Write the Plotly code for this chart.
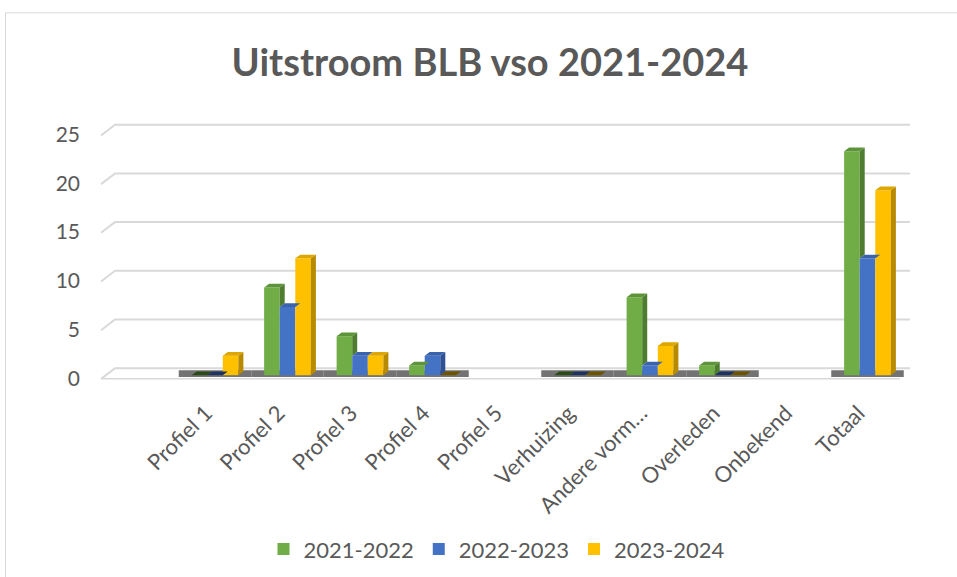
import plotly.graph_objects as go

# ---------------- data ----------------
categories = ["Profiel 1", "Profiel 2", "Profiel 3", "Profiel 4", "Profiel 5",
              "Verhuizing", "Andere vorm…", "Overleden", "Onbekend", "Totaal"]
series_names = ["2021-2022", "2022-2023", "2023-2024"]
vals_2021_2022 = [0, 9, 4, 1, None, 0, 8, 1, None, 23]
vals_2022_2023 = [0, 7, 2, 2, None, 0, 1, 0, None, 12]
vals_2023_2024 = [2, 12, 2, 0, None, 0, 3, 0, None, 19]
y_ticks = [0, 5, 10, 15, 20, 25]

series_vals = [vals_2021_2022, vals_2022_2023, vals_2023_2024]

# ---------------- styling ----------------
front_cols = ["#70AD47", "#4472C4", "#FFC000"]
side_cols = ["#4E7D30", "#2E5293", "#B88A00"]
cap_cols = ["#5E9439", "#3A63AD", "#DDA600"]
zero_cols = ["#2A4A18", "#1C3260", "#6B5300"]
TXT = "#595959"
GRID = "#D9D9D9"
FONT = "Lato"

W = 0.215          # bar front width (category units)
DX = 0.069         # 3D depth in x (category units)
DY = 0.38          # 3D depth in y (value units)
offsets = [-1.5 * W, -0.5 * W, 0.5 * W]

x_idx = list(range(len(categories)))

fig = go.Figure()

# floor shadow under categories that have data
for i in x_idx:
    if any(s[i] is not None for s in series_vals):
        fig.add_shape(type="rect", xref="x", yref="y",
                      x0=i - 0.5, x1=i + 0.5, y0=-0.2, y1=0.5,
                      fillcolor="#737373", line_width=0, layer="below")

# slanted 3D gridlines
for t in y_ticks:
    fig.add_shape(type="path", xref="x", yref="y",
                  path=f"M -1.572 {t - 0.38} L -1.379 {t + 0.72} L 9.586 {t + 0.72}",
                  line=dict(color=GRID, width=2), layer="below")
# floor front edge
fig.add_shape(type="path", xref="x", yref="y",
              path="M -1.572 -0.38 L 9.45 -0.38",
              line=dict(color=GRID, width=1.5), layer="below")

# front faces (bars)
for s, name in enumerate(series_names):
    fig.add_trace(go.Bar(
        x=x_idx, y=series_vals[s], name=name,
        width=W, offset=offsets[s],
        marker=dict(color=front_cols[s], line=dict(width=0)),
        showlegend=True,
    ))

# side faces and top caps computed from the data
for s in range(3):
    sx, sy, cx, cy, zx, zy = [], [], [], [], [], []
    for i in x_idx:
        v = series_vals[s][i]
        if v is None:
            continue
        xl = i + offsets[s]
        xr = xl + W
        if s < 2 and series_vals[s + 1][i] is not None:
            b = series_vals[s + 1][i]
        else:
            b = 0
        if v > b:
            sx += [xr, xr + DX, xr + DX, xr, xr, None]
            sy += [b, b + DY, v + DY, v, b, None]
        poly_x = [xl, xr, xr + DX, xl + DX, xl, None]
        poly_y = [v, v, v + DY, v + DY, v, None]
        if v == 0:
            zx += poly_x
            zy += poly_y
        else:
            cx += poly_x
            cy += poly_y
    for px, py, col in ((sx, sy, side_cols[s]), (cx, cy, cap_cols[s]), (zx, zy, zero_cols[s])):
        if px:
            fig.add_trace(go.Scatter(x=px, y=py, mode="lines", fill="toself",
                                     fillcolor=col, line=dict(width=0, color=col),
                                     hoverinfo="skip", showlegend=False))

PL, PT, PW, PH = 99, 122.7, 812, 258.1

# chart frame (decoration)
fig.add_shape(type="rect", xref="paper", yref="paper",
              x0=(5.5 - PL) / PW, x1=1.15, y0=-0.9, y1=(PT + PH - 12.5) / PH,
              line=dict(color=GRID, width=1), fillcolor="rgba(0,0,0,0)")

fig.update_layout(
    width=957, height=577,
    margin=dict(l=PL, r=957 - PL - PW, t=PT, b=577 - PT - PH, autoexpand=False),
    paper_bgcolor="white", plot_bgcolor="white",
    barmode="overlay",
    font=dict(family=FONT, color=TXT, size=21),
    title=dict(text="Uitstroom BLB vso 2021-2024",
               font=dict(family=FONT, size=38, color=TXT, weight="bold"),
               xref="paper", x=(490 - PL) / PW, xanchor="center",
               yref="container", y=1 - 63 / 577, yanchor="middle"),
    xaxis=dict(range=[-1.6, 9.6], tickvals=x_idx, ticktext=categories,
               tickangle=-45, showgrid=False, zeroline=False, showline=False,
               ticks="", ticklabelstandoff=14, ticklabelshift=-9,
               tickfont=dict(family=FONT, size=22, color=TXT)),
    yaxis=dict(range=[-0.6, 25.9], tickvals=y_ticks, showgrid=False,
               zeroline=False, showline=False, ticks="",
               ticklabelstandoff=18, ticklabelshift=3,
               tickfont=dict(family=FONT, size=21, color=TXT)),
    legend=dict(orientation="h", xref="paper", x=(497 - PL) / PW, xanchor="center",
                yref="paper", y=(PT + PH - 549) / PH, yanchor="middle",
                font=dict(family=FONT, size=22, color=TXT),
                bgcolor="rgba(0,0,0,0)"),
    showlegend=True,
)

fig.write_html("out.html", config={"displayModeBar": False},
               post_script="document.body.style.margin='0';")
